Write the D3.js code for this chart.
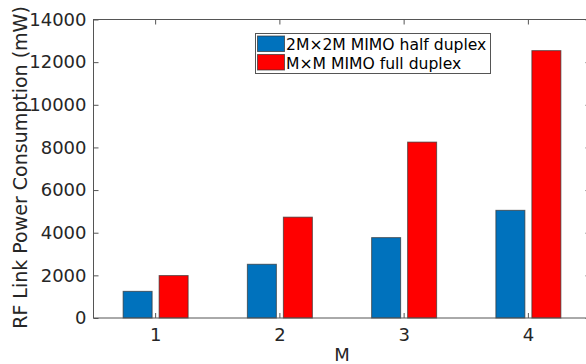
<!DOCTYPE html>
<html><head><meta charset="utf-8">
<script src="https://cdn.jsdelivr.net/npm/d3@7"></script>
<style>body{margin:0;background:#fff}svg{display:block}</style>
</head><body>
<script>
const categories = ["1","2","3","4"];
const seriesNames = ["2M\u00d72M MIMO half duplex","M\u00d7M MIMO full duplex"];
const halfDuplex = [1250, 2520, 3770, 5050];
const fullDuplex = [1990, 4730, 8250, 12540];
const yTicks = [0,2000,4000,6000,8000,10000,12000,14000];
const colors = ["#0072BD","#FF0000"];

const W=586,H=364;
const L=93.5,R=590.5,T=19.5,B=318;
const svg=d3.select("body").append("svg").attr("width",W).attr("height",H);
const font="DejaVu Sans, sans-serif", tc="#262626", ac="#555";

const x=d3.scaleBand().domain(categories).range([L,R]).paddingInner(0).paddingOuter(0);
const x1=d3.scaleBand().domain([0,1]).range([-32.5,32.5]).paddingInner(7/36).paddingOuter(0);
const y=d3.scaleLinear().domain([0,14000]).range([B,T]);

const data=[halfDuplex,fullDuplex];
data.forEach((vals,s)=>{
  svg.append("g").selectAll("rect").data(vals).join("rect")
    .attr("x",(d,i)=>x(categories[i])+x.bandwidth()/2+x1(s))
    .attr("width",x1.bandwidth())
    .attr("y",d=>y(d)).attr("height",d=>B-y(d))
    .attr("fill",colors[s]).attr("stroke","#333").attr("stroke-opacity",0.7).attr("stroke-width",1);
});

// box
svg.append("rect").attr("x",L).attr("y",T).attr("width",R-L).attr("height",B-T)
  .attr("fill","none").attr("stroke",ac).attr("stroke-width",1);

// axes
const yAx=svg.append("g").attr("transform",`translate(${L},0)`)
  .call(d3.axisLeft(y).tickValues(yTicks).tickSize(-5).tickPadding(7).tickFormat(d3.format("d")));
const yAxR=svg.append("g").attr("transform",`translate(${R},0)`)
  .call(d3.axisRight(y).tickValues(yTicks).tickSize(-5).tickFormat(""));
const xAx=svg.append("g").attr("transform",`translate(0,${B})`)
  .call(d3.axisBottom(x).tickSize(-5).tickPadding(10));
const xAxT=svg.append("g").attr("transform",`translate(0,${T})`)
  .call(d3.axisTop(x).tickSize(-5).tickFormat(""));
[yAx,yAxR,xAx,xAxT].forEach(g=>{
  g.select(".domain").remove();
  g.selectAll(".tick line").attr("stroke",ac);
  g.selectAll("text").attr("fill",tc).style("font-family",font).style("font-size","18px");
});
xAx.selectAll("text").attr("dy","0.71em");

svg.append("text").attr("x",(L+R)/2).attr("y",361).attr("text-anchor","middle")
  .attr("fill",tc).style("font-family",font).style("font-size","18px").text("M");
svg.append("text").attr("transform",`translate(27,167.5) rotate(-90)`).attr("text-anchor","middle")
  .attr("fill",tc).style("font-family",font).style("font-size","19px").text("RF Link Power Consumption (mW)");

// legend
const lg=svg.append("g");
lg.append("rect").attr("x",255.5).attr("y",33.5).attr("width",235).attr("height",40)
  .attr("fill","#fff").attr("stroke",ac).attr("stroke-width",1);
seriesNames.forEach((n,i)=>{
  lg.append("rect").attr("x",257.5).attr("y",36+i*18.5).attr("width",27).attr("height",15.5)
    .attr("fill",colors[i]).attr("stroke","#333").attr("stroke-opacity",0.7);
  lg.append("text").attr("x",286).attr("y",49.5+i*19).attr("fill","#000")
    .style("font-family",font).style("font-size","15.6px").text(n);
});
</script>
</body></html>
